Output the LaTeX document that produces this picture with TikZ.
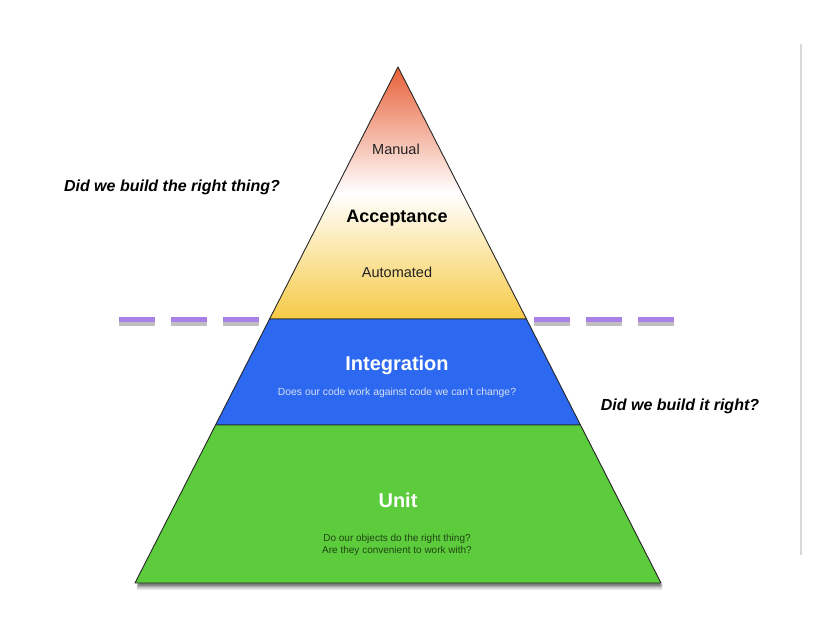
\documentclass[tikz,border=0pt]{standalone}
\usepackage{fontspec}
\setmainfont{Liberation Sans}
\usetikzlibrary{calc}
\definecolor{accTop}{RGB}{232,96,56}
\definecolor{accBot}{RGB}{246,202,70}
\definecolor{intBlue}{RGB}{44,104,240}
\definecolor{unitGreen}{RGB}{92,203,60}
\definecolor{dashPurple}{RGB}{168,128,232}
\definecolor{txtDark}{RGB}{34,34,34}
\definecolor{intSub}{RGB}{214,224,244}
\definecolor{unitSub}{RGB}{32,70,20}
\tikzset{
  band/.style={draw=black!85, line width=0.9pt, line join=round},
  question/.style={inner sep=0pt, font=\fontsize{16}{19}\selectfont\bfseries\itshape, text=black},
  acclabel/.style={inner sep=0pt, font=\fontsize{14.5}{17}\selectfont, text=txtDark},
  bigtitle/.style={inner sep=0pt, font=\fontsize{20}{24}\selectfont\bfseries, text=white},
  subtext/.style={inner sep=0pt, font=\fontsize{10.4}{12}\selectfont, align=center},
  purpledash/.style={line width=5pt, draw=dashPurple, dash pattern=on 36pt off 16pt},
  dashshadow/.style={line width=4pt, draw=black!45, opacity=0.55, dash pattern=on 36pt off 16pt}
}
\begin{document}
\begin{tikzpicture}[x=1pt,y=-1pt]
\useasboundingbox (0,0) rectangle (816,634);
\fill[white] (0,0) rectangle (816,634);
% geometry
\coordinate (A) at (398,67);
\coordinate (L3) at (135,583);
\coordinate (R3) at (661,583);
\coordinate (L1) at ($(A)!0.4884!(L3)$);
\coordinate (R1) at ($(A)!0.4884!(R3)$);
\coordinate (L2) at ($(A)!0.6938!(L3)$);
\coordinate (R2) at ($(A)!0.6938!(R3)$);
% right-hand rule line
\coordinate (v1) at (801,44);
\coordinate (v2) at (801,555);
\draw[black!15, line width=1.5pt] (v1) -- (v2);
% pyramid shadow
\foreach \o/\op in {7/0.08,5.5/0.12,4/0.18,2.5/0.25}{
  \fill[black, opacity=\op] ($(L2)+(1.5,\o)$) -- ($(R2)+(1.5,\o)$) -- ($(R3)+(1.5,\o)$) -- ($(L3)+(1.5,\o)$) -- cycle;
}
% bands
\shade[top color=accTop, bottom color=accBot, middle color=white] (A) -- (R1) -- (L1) -- cycle;
\draw[band] (A) -- (R1) -- (L1) -- cycle;
\draw[band, fill=intBlue] (L1) -- (R1) -- (R2) -- (L2) -- cycle;
\draw[band, fill=unitGreen] (L2) -- (R2) -- (R3) -- (L3) -- cycle;
% dashed divider
\coordinate (dl1) at (119,319);
\coordinate (dl2) at (260,319);
\coordinate (dr1) at (534,319);
\coordinate (dr2) at (676,319);
\draw[dashshadow] ($(dl1)+(0,4.5)$) -- ($(dl2)+(0,4.5)$);
\draw[dashshadow] ($(dr1)+(0,4.5)$) -- ($(dr2)+(0,4.5)$);
\draw[purpledash] (dl1) -- (dl2);
\draw[purpledash] (dr1) -- (dr2);
% acceptance labels
\node[acclabel] (manual) at (396,149) {Manual};
\node[inner sep=0pt, font=\fontsize{18}{21}\selectfont\bfseries, text=black] (acc) at (397,218) {Acceptance};
\node[acclabel] (auto) at (397,272) {Automated};
% integration
\node[bigtitle] (int) at (397,365) {Integration};
\node[subtext, text=intSub] (intsub) at (397,393) {Does our code work against code we can't change?};
% unit
\node[bigtitle] (unit) at (398,500) {Unit};
\node[subtext, text=unitSub, font=\fontsize{10}{11.5}\selectfont] (unitsub) at (397,545) {Do our objects do the right thing?\\Are they convenient to work with?};
% questions
\node[question] (q1) at (172,187) {Did we build the right thing?};
\node[question] (q2) at (680,406) {Did we build it right?};
\end{tikzpicture}
\end{document}
